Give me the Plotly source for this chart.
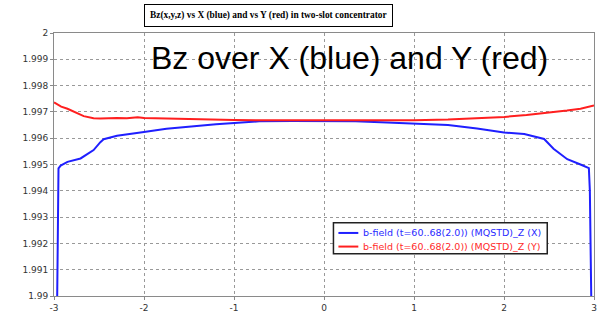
import plotly.graph_objects as go

# Data
x_blue = [-2.965, -2.962, -2.958, -2.955, -2.95, -2.926, -2.85, -2.705, -2.56, -2.485, -2.448,
          -2.30, -2.117, -2.0, -1.75, -1.455, -1.2, -0.995, -0.72, -0.354, 0.0, 0.35, 0.7,
          1.0, 1.378, 1.7, 2.0, 2.225, 2.446, 2.55, 2.703, 2.85, 2.943, 2.954, 2.96, 2.965, 2.97]
y_blue = [1.9898, 1.9912, 1.9925, 1.9940, 1.99485, 1.99496, 1.9951, 1.99523, 1.99555, 1.99585,
          1.99596, 1.99609, 1.99619, 1.99624, 1.99636, 1.99646, 1.99653, 1.99658, 1.99664,
          1.99665, 1.99665, 1.99664, 1.99660, 1.99656, 1.99650, 1.99637, 1.99622, 1.99616,
          1.99597, 1.99560, 1.99520, 1.99500, 1.99486, 1.9940, 1.9924, 1.9910, 1.9898]

x_red = [-3.0, -2.92, -2.85, -2.75, -2.67, -2.56, -2.485, -2.30, -2.19, -2.07, -2.0, -1.75,
         -1.455, -1.0, -0.72, 0.0, 0.384, 1.0, 1.378, 1.7, 2.004, 2.25, 2.482, 2.7, 2.85, 3.0]
y_red = [1.99736, 1.99720, 1.99712, 1.99695, 1.99684, 1.99676, 1.99675, 1.99677, 1.99676,
         1.99680, 1.99677, 1.99675, 1.99672, 1.99669, 1.99668, 1.99667, 1.99667, 1.99668,
         1.99671, 1.99675, 1.99681, 1.99688, 1.99696, 1.99705, 1.99712, 1.99724]

x_ticks = [-3, -2, -1, 0, 1, 2, 3]
x_ticktext = ["-3", "-2", "-1", "0", "1", "2", "3"]
y_ticks = [1.99, 1.991, 1.992, 1.993, 1.994, 1.995, 1.996, 1.997, 1.998, 1.999, 2.0]
y_ticktext = ["1.99", "1.991", "1.992", "1.993", "1.994", "1.995", "1.996", "1.997", "1.998", "1.999", "2"]

name_x = "b-field (t=60..68(2.0)) (MQSTD)_Z (X)"
name_y = "b-field (t=60..68(2.0)) (MQSTD)_Z (Y)"
chart_title = "Bz(x,y,z) vs X (blue) and vs Y (red) in two-slot concentrator"
big_label = "Bz over X (blue) and Y (red)"

BLUE = "#1f1fff"
RED = "#ff1f1f"

# pixel -> paper helpers (plot area: x 54..597, y 33..303.3)
L, R, T, B = 54, 7, 33, 16.7
PW, PH = 604 - L - R, 320 - T - B


def px(v):
    return (v - L) / PW


def py(v):
    return (320 - B - v) / PH


fig = go.Figure()
fig.add_trace(go.Scatter(x=x_blue, y=y_blue, mode="lines",
                         line=dict(color=BLUE, width=2), name=name_x))
fig.add_trace(go.Scatter(x=x_red, y=y_red, mode="lines",
                         line=dict(color=RED, width=2), name=name_y))

axis_common = dict(showline=True, linecolor="#8a8a8a", linewidth=1, mirror=True,
                   showgrid=True, gridcolor="#999999", griddash="dot", gridwidth=1,
                   zeroline=False, ticks="outside", ticklen=3, tickcolor="#8a8a8a",
                   tickfont=dict(family="DejaVu Sans", size=9, color="#333333"))

# Manual legend box (compact like the reference)
shapes = [
    dict(type="rect", xref="paper", yref="paper", x0=px(335), x1=px(550), y0=py(260), y1=py(228),
         line=dict(color="#222222", width=1.5), fillcolor="white", layer="above"),
    dict(type="line", xref="paper", yref="paper", x0=px(340), x1=px(360), y0=py(238.5), y1=py(238.5),
         line=dict(color=BLUE, width=2), layer="above"),
    dict(type="line", xref="paper", yref="paper", x0=px(340), x1=px(360), y0=py(252.5), y1=py(252.5),
         line=dict(color=RED, width=2), layer="above"),
]

fig.update_layout(
    width=604, height=320,
    margin=dict(l=L, r=R, t=T, b=B),
    paper_bgcolor="white", plot_bgcolor="white",
    showlegend=False,
    xaxis=dict(range=[-3, 3], tickvals=x_ticks, ticktext=x_ticktext, **axis_common),
    yaxis=dict(range=[1.99, 2.0], tickvals=y_ticks, ticktext=y_ticktext, **axis_common),
    shapes=shapes,
    annotations=[
        dict(text="<b>" + chart_title + "</b>", xref="paper", yref="paper",
             x=px(270), y=py(15.5), xanchor="center", yanchor="middle",
             showarrow=False, font=dict(family="Liberation Serif", size=9.4, color="black"),
             bordercolor="black", borderwidth=1, borderpad=5, bgcolor="white"),
        dict(text=big_label, xref="paper", yref="paper",
             x=px(150), y=py(59), xanchor="left", yanchor="middle",
             showarrow=False, font=dict(family="Liberation Sans", size=32, color="black")),
        dict(text=name_x, xref="paper", yref="paper", x=px(363), y=py(238.5),
             xanchor="left", yanchor="middle", showarrow=False,
             font=dict(family="DejaVu Sans", size=9.5, color="#2a2aff")),
        dict(text=name_y, xref="paper", yref="paper", x=px(363), y=py(252.5),
             xanchor="left", yanchor="middle", showarrow=False,
             font=dict(family="DejaVu Sans", size=9.5, color="#ff2a2a")),
    ],
)

fig.write_html("out.html")
